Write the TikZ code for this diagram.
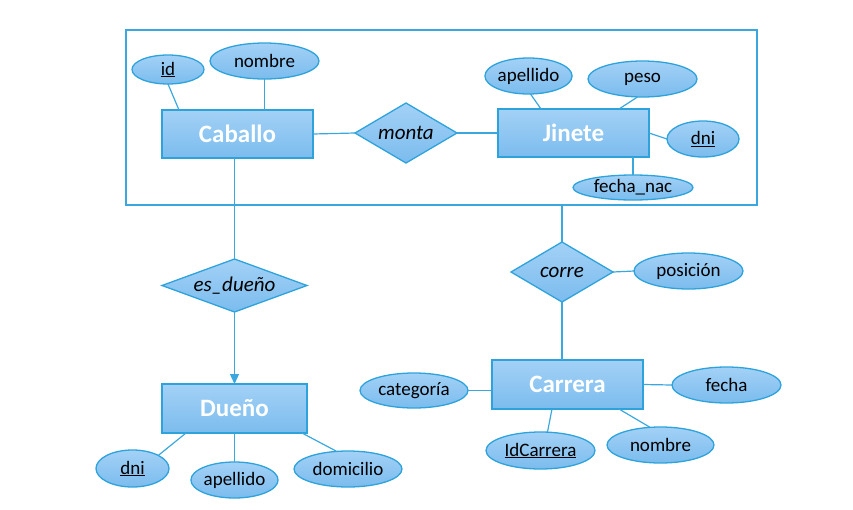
\documentclass[tikz,border=0pt]{standalone}
\usepackage{fontspec}
\setmainfont{Carlito}
\usetikzlibrary{shapes.geometric,arrows.meta}
\definecolor{erborder}{HTML}{2EA3DB}
\definecolor{erline}{HTML}{3AA8DE}
\definecolor{ertop}{HTML}{A3D1F6}
\definecolor{erbot}{HTML}{7BBCEE}
\tikzset{
  base/.style={draw=erborder, line width=1.3pt, top color=ertop, bottom color=erbot, inner sep=0pt, outer sep=0pt},
  entity/.style={base, rectangle, minimum width=151pt, minimum height=48pt, text=white, font=\bfseries\fontsize{25}{30}\selectfont},
  attr/.style={base, ellipse, minimum width=109pt, minimum height=36pt, font=\fontsize{19}{23}\selectfont},
  rel/.style={base, diamond, shape aspect=1.7, minimum width=102pt, minimum height=60pt, font=\itshape\fontsize{21}{25}\selectfont},
  conn/.style={draw=erline, line width=1.2pt},
  aggbox/.style={draw=erline, line width=1.6pt, rectangle, inner sep=0pt, outer sep=0pt, minimum width=631pt, minimum height=175pt}
}
\begin{document}
\begin{tikzpicture}[x=1pt,y=-1pt]
\useasboundingbox (0,0) rectangle (853,509);
% aggregation box
\node[aggbox] (agg) at (441.5,117.5) {};
% entities
\node[entity] (cab) at (237.5,134) {Caballo};
\node[entity] (jin) at (573.5,133) {Jinete};
\node[entity, minimum width=145pt, minimum height=49pt] (due) at (234.5,408.5) {Dueño};
\node[entity, minimum height=49pt] (car) at (567.5,384.5) {Carrera};
% relationships
\node[rel] (monta) at (406,133) {monta};
\node[rel, shape aspect=2.75, minimum width=145pt, minimum height=53pt] (esd) at (234.5,285.5) {es\_dueño};
\node[rel] (corre) at (562,272) {corre};
% attributes
\node[attr, minimum width=72pt, minimum height=29pt] (id) at (168,69.5) {\underline{id}};
\node[attr] (nomCab) at (264.5,61) {nombre};
\node[attr, minimum width=85pt] (apJ) at (528.5,76) {apellido};
\node[attr] (peso) at (642.5,79) {peso};
\node[attr, minimum width=72pt] (dniJ) at (703,139) {\underline{dni}};
\node[attr, minimum width=120pt, minimum height=25pt] (fnac) at (633,187.5) {fecha\_nac};
\node[attr] (pos) at (688.5,271) {posición};
\node[attr, minimum width=108pt, minimum height=35pt] (cat) at (414,390.5) {categoría};
\node[attr] (fecha) at (726.5,385) {fecha};
\node[attr, minimum height=37pt] (idc) at (540.5,450.5) {\underline{IdCarrera}};
\node[attr, minimum width=107pt] (nomCar) at (660.5,445) {nombre};
\node[attr, minimum width=73pt, minimum height=37pt] (dniD) at (132.5,468.5) {\underline{dni}};
\node[attr, minimum width=85pt] (apD) at (234.5,480) {apellido};
\node[attr, minimum width=108pt] (dom) at (348,469) {domicilio};
% connectors
\draw[conn] (id.south) -- ([xshift=17pt]cab.north west);
\draw[conn] (nomCab.south) -- (nomCab.south |- cab.north);
\draw[conn] (cab.east) -- (monta.west);
\draw[conn] (monta.east) -- (jin.west);
\draw[conn] ([xshift=2pt]apJ.south) -- ([xshift=43pt]jin.north west);
\draw[conn] ([xshift=-5pt]peso.south) -- ([xshift=121pt]jin.north west);
\draw[conn] (jin.east) -- (dniJ.west);
\draw[conn] (fnac.north) -- (fnac.north |- jin.south);
\draw[conn] (esd.north) -- (esd.north |- cab.south);
\draw[conn, -{Triangle[width=9pt,length=10pt]}] (esd.south) -- (due.north);
\draw[conn] (corre.north |- agg.south) -- (corre.north);
\draw[conn] (corre.east) -- (pos.west);
\draw[conn] (corre.south) -- (corre.south |- car.north);
\draw[conn] (cat.east) -- (cat.east -| car.west);
\draw[conn] (car.east) -- (fecha.west);
\draw[conn] ([xshift=60pt]car.south west) -- ([xshift=7pt]idc.north);
\draw[conn] ([xshift=127pt]car.south west) -- ([xshift=-11pt]nomCar.north);
\draw[conn] ([xshift=24pt]due.south west) -- (dniD.north east);
\draw[conn] (due.south) -- (apD.north);
\draw[conn] ([xshift=140pt]due.south west) -- ([xshift=-12pt]dom.north);
\end{tikzpicture}
\end{document}
